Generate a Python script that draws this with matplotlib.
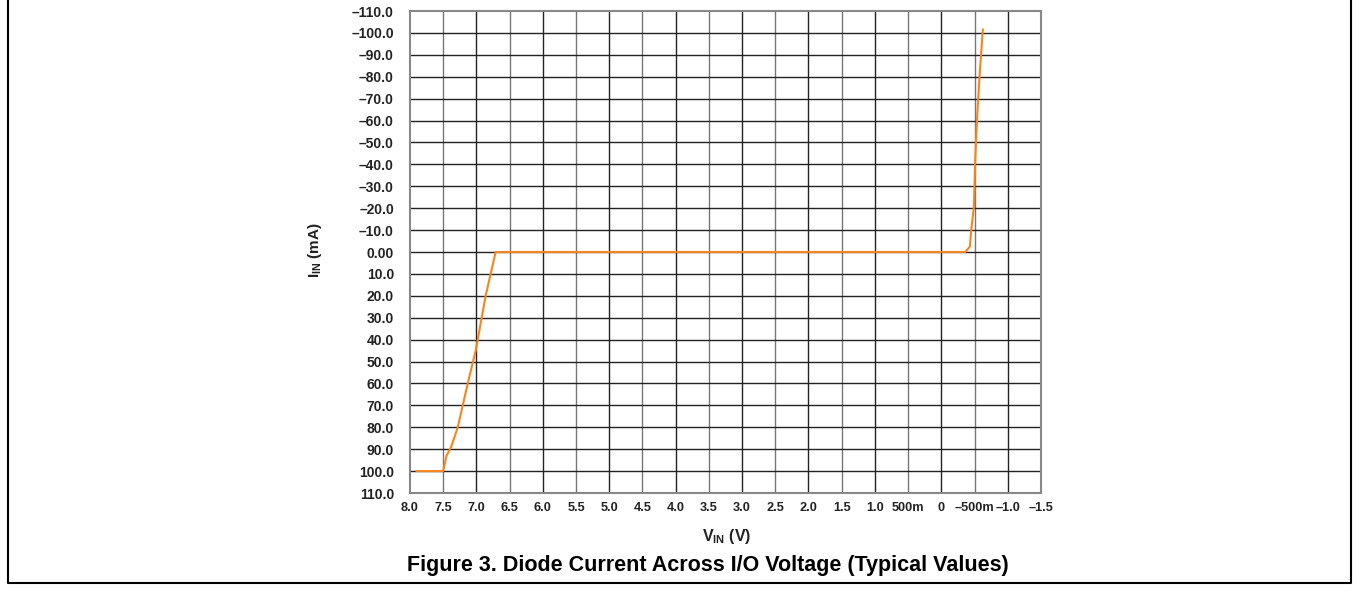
import numpy as np
import matplotlib
matplotlib.use('Agg')
import matplotlib.pyplot as plt
from matplotlib.lines import Line2D

plt.rcParams['font.family'] = ['Liberation Sans', 'DejaVu Sans']
plt.rcParams['mathtext.fontset'] = 'custom'
plt.rcParams['mathtext.rm'] = 'Liberation Sans:bold'
plt.rcParams['mathtext.bf'] = 'Liberation Sans:bold'

# Courbe (V, mA)
v_in = [7.9, 7.5, 7.45, 7.38, 7.28, 7.13, 7.01, 6.86, 6.71, 3.0, -0.36, -0.43, -0.45, -0.49, -0.51, -0.54, -0.575, -0.625]
i_in = [100, 100, 93, 89, 80, 60, 45, 20, 0, 0, 0, -2.5, -10, -20.5, -42, -62, -80, -101.5]

x_ticks = [8.0, 7.5, 7.0, 6.5, 6.0, 5.5, 5.0, 4.5, 4.0, 3.5, 3.0, 2.5, 2.0, 1.5, 1.0, 0.5, 0.0, -0.5, -1.0, -1.5]
x_labels = ['8.0', '7.5', '7.0', '6.5', '6.0', '5.5', '5.0', '4.5', '4.0', '3.5', '3.0', '2.5',
            '2.0', '1.5', '1.0', '500m', '0', '\u2013500m', '\u20131.0', '\u20131.5']
y_ticks = list(range(-110, 111, 10))
y_labels = [('\u2013%d.0' % -t) if t < 0 else ('0.00' if t == 0 else '%d.0' % t) for t in y_ticks]

fig = plt.figure(figsize=(13.57, 5.92), dpi=100)
ax = fig.add_axes([0.3021, 0.1672, 0.4650, 0.8142])

ax.set_xlim(8.0, -1.5)
ax.set_ylim(110, -110)

# grille
for t in x_ticks[1:-1]:
    col = '#222222' if abs(t - round(t)) < 1e-6 else '#777777'
    ax.axvline(t, color=col, lw=1.0, zorder=1)
for t in y_ticks[1:-1]:
    ax.axhline(t, color='#222222', lw=1.0, zorder=1)

ax.plot(v_in, i_in, color='#F7851E', lw=1.5, zorder=3)

ax.set_xticks(x_ticks)
ax.set_xticklabels(x_labels)
ax.set_yticks(y_ticks)
ax.set_yticklabels(y_labels)
ax.tick_params(length=0)
ax.tick_params(axis='x', labelsize=9.2, pad=6.5)
ax.tick_params(axis='y', labelsize=10, pad=11.5)
for lab in ax.get_xticklabels() + ax.get_yticklabels():
    lab.set_fontweight('bold')
    lab.set_color('#222222')
for s in ax.spines.values():
    s.set_color('#888888')
    s.set_linewidth(1.5)

fig.text(315 / 1357, 1 - 250 / 592, r'$\mathbf{I_{IN}}$ (mA)', rotation=90, ha='center', va='center',
         fontsize=11, fontweight='bold', color='#222222')
fig.text(727 / 1357, 1 - 537 / 592, r'$\mathbf{V_{IN}}$ (V)', ha='center', va='center',
         fontsize=11.5, fontweight='bold', color='#222222')
fig.text(708 / 1357, 1 - 565 / 592, 'Figure 3. Diode Current Across I/O Voltage (Typical Values)',
         ha='center', va='center', fontsize=15.5, fontweight='bold')

# cadre ouvert en haut
fx = [8 / 1357, 8 / 1357, 1351 / 1357, 1351 / 1357]
fy = [1.0, 1 - 583 / 592, 1 - 583 / 592, 1.0]
fig.add_artist(Line2D(fx, fy, color='black', lw=1.5, transform=fig.transFigure))

fig.savefig('out.png', dpi=100)
